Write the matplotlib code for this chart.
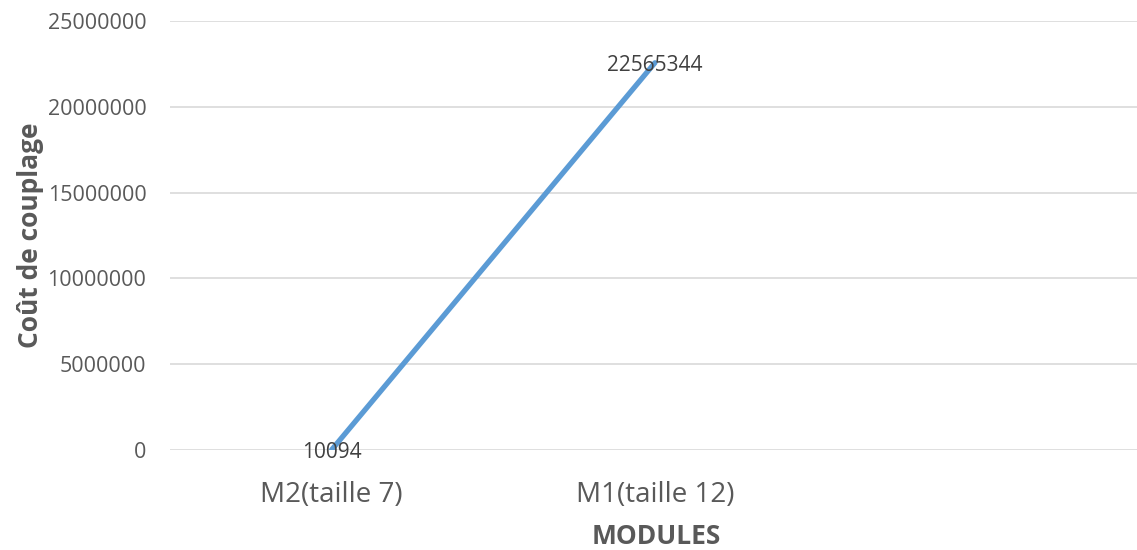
import matplotlib
matplotlib.use('Agg')
import matplotlib.pyplot as plt

categories = ['M2(taille 7)', 'M1(taille 12)', '']
values = [10094, 22565344]
yticks = [0, 5000000, 10000000, 15000000, 20000000, 25000000]

plt.rcParams['font.family'] = ['Open Sans', 'DejaVu Sans']

fig = plt.figure(figsize=(11.37, 5.5), dpi=100)
ax = fig.add_axes([0.1495, 0.1818, 0.853, 0.78])

x = list(range(len(values)))
ax.plot(x, values, color='#5B9BD5', linewidth=3.8, solid_capstyle='round', zorder=3)

for xi, v in zip(x, values):
    ax.annotate(str(v), (xi, v), xytext=(0, -2), textcoords='offset points',
                ha='center', va='center', fontsize=15, color='#404040', zorder=4)

ax.set_xlim(-0.5, 2.5)
ax.set_ylim(0, 25000000)
ax.set_xticks(range(len(categories)))
ax.set_xticklabels(categories, fontsize=20, color='#595959')
ax.set_yticks(yticks)
ax.set_yticklabels([str(t) for t in yticks], fontsize=15.5, color='#595959')
ax.tick_params(length=0)
ax.tick_params(axis='y', pad=17)
ax.tick_params(axis='x', pad=22)

ax.grid(axis='y', color='#D9D9D9', linewidth=1.2)
ax.set_axisbelow(True)
for s in ax.spines.values():
    s.set_visible(False)

ax.set_ylabel('Coût de couplage', fontsize=19, fontweight='bold', color='#595959')
ax.yaxis.set_label_coords(-0.13, 0.5)
fig.text(656 / 1137, 1 - 537 / 550, 'MODULES', fontsize=19, fontweight='bold',
         color='#595959', ha='center', va='center')

fig.savefig('out.png', dpi=100)
